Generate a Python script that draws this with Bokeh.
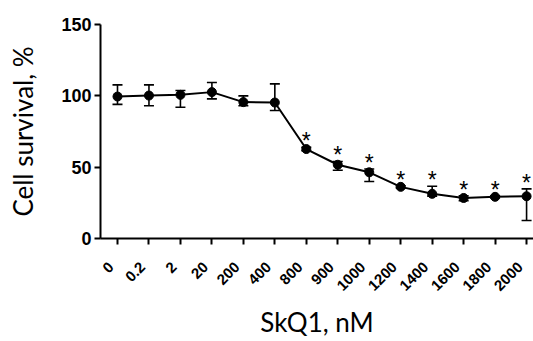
import math
from bokeh.plotting import figure
from bokeh.models import (Range1d, FixedTicker, Whisker, ColumnDataSource, TeeHead,
                          LinearAxis)
from bokeh.core.properties import value
from bokeh.embed import file_html
from bokeh.resources import INLINE

categories = ["0", "0.2", "2", "20", "200", "400", "800", "900", "1000",
              "1200", "1400", "1600", "1800", "2000"]
survival = [99.5, 100.2, 100.7, 102.6, 95.6, 95.3, 62.7, 51.7, 46.4,
            36.2, 31.3, 28.4, 29.2, 29.6]
err_low = [94.0, 93.0, 92.0, 97.9, 93.0, 89.7, 61.5, 47.8, 40.0,
           35.5, 29.7, 26.5, 28.5, 12.6]
err_high = [107.7, 107.7, 103.7, 109.3, 100.0, 108.4, 64.0, 54.0, 48.7,
            37.0, 36.6, 30.0, 30.0, 34.8]
significant = [False, False, False, False, False, False, True, True, True,
               True, True, True, True, True]
y_ticks = [0, 50, 100, 150]

xs = list(range(len(categories)))
x_start, x_end = -0.540, 13.22
label_shift = 0.2  # moves the rotated tick labels slightly left of their ticks

p = figure(width=533, height=341, output_backend="svg", toolbar_location=None,
           x_range=Range1d(x_start, x_end), y_range=Range1d(0, 150),
           min_border_left=100, min_border_right=0, min_border_top=24,
           min_border_bottom=102, x_axis_location=None)
p.extra_x_ranges = {"lab": Range1d(x_start + label_shift, x_end + label_shift)}
p.outline_line_color = None
p.grid.grid_line_color = None
p.background_fill_color = "white"
p.border_fill_color = "white"

src = ColumnDataSource(dict(x=xs, y=survival, lo=err_low, hi=err_high))
w = Whisker(source=src, base="x", lower="lo", upper="hi",
            line_color="black", line_width=1.6,
            upper_head=TeeHead(size=10, line_color="black", line_width=1.6),
            lower_head=TeeHead(size=10, line_color="black", line_width=1.6))
p.add_layout(w)
p.line("x", "y", source=src, line_color="black", line_width=2)
p.scatter("x", "y", source=src, size=9, fill_color="black", line_color="black")

sx = [x for x, s in zip(xs, significant) if s]
sy = [max(h, v) for h, v, s in zip(err_high, survival, significant) if s]
p.text(sx, sy, text=["*"] * len(sx), text_align="center", text_baseline="middle",
       y_offset=-6, text_font=value("Liberation Sans"), text_font_size="23px",
       text_color="black")

# axis with line and ticks (no labels)
ax_ticks = LinearAxis(ticker=FixedTicker(ticks=xs))
ax_ticks.major_label_overrides = {i: "" for i in xs}
ax_ticks.major_label_text_font_size = "1px"
ax_ticks.major_label_standoff = 0
ax_ticks.axis_line_width = 2
ax_ticks.axis_line_color = "black"
ax_ticks.major_tick_line_width = 2
ax_ticks.major_tick_line_color = "black"
ax_ticks.major_tick_in = 0
ax_ticks.major_tick_out = 6
ax_ticks.minor_tick_line_color = None
p.add_layout(ax_ticks, "below")

# axis carrying the rotated category labels and the title
ax_lab = LinearAxis(x_range_name="lab", ticker=FixedTicker(ticks=xs))
ax_lab.major_label_overrides = {i: c for i, c in enumerate(categories)}
ax_lab.major_label_orientation = math.pi / 4
ax_lab.axis_line_color = None
ax_lab.major_tick_line_color = None
ax_lab.minor_tick_line_color = None
ax_lab.major_tick_in = 0
ax_lab.major_tick_out = 0
ax_lab.major_label_standoff = 20
ax_lab.major_label_text_font = "Liberation Sans"
ax_lab.major_label_text_font_style = "bold"
ax_lab.major_label_text_font_size = "15px"
ax_lab.major_label_text_color = "black"
ax_lab.axis_label = "SkQ1, nM"
ax_lab.axis_label_text_font = "Lato"
ax_lab.axis_label_text_font_style = "normal"
ax_lab.axis_label_text_font_size = "26px"
ax_lab.axis_label_text_color = "black"
ax_lab.axis_label_standoff = 8
p.add_layout(ax_lab, "below")

p.yaxis.ticker = FixedTicker(ticks=y_ticks)
p.yaxis.axis_line_width = 2
p.yaxis.axis_line_color = "black"
p.yaxis.major_tick_line_width = 2
p.yaxis.major_tick_line_color = "black"
p.yaxis.major_tick_in = 0
p.yaxis.major_tick_out = 6
p.yaxis.minor_tick_line_color = None
p.yaxis.major_label_text_font = "Liberation Sans"
p.yaxis.major_label_text_font_style = "bold"
p.yaxis.major_label_text_color = "black"
p.yaxis.major_label_text_font_size = "18px"
p.yaxis.major_label_standoff = 3
p.yaxis.axis_label = "Cell survival, %"
p.yaxis.axis_label_text_font = "Lato"
p.yaxis.axis_label_text_font_style = "normal"
p.yaxis.axis_label_text_font_size = "26px"
p.yaxis.axis_label_text_color = "black"
p.yaxis.axis_label_standoff = 19

open("out.html", "w").write(file_html(p, INLINE))
